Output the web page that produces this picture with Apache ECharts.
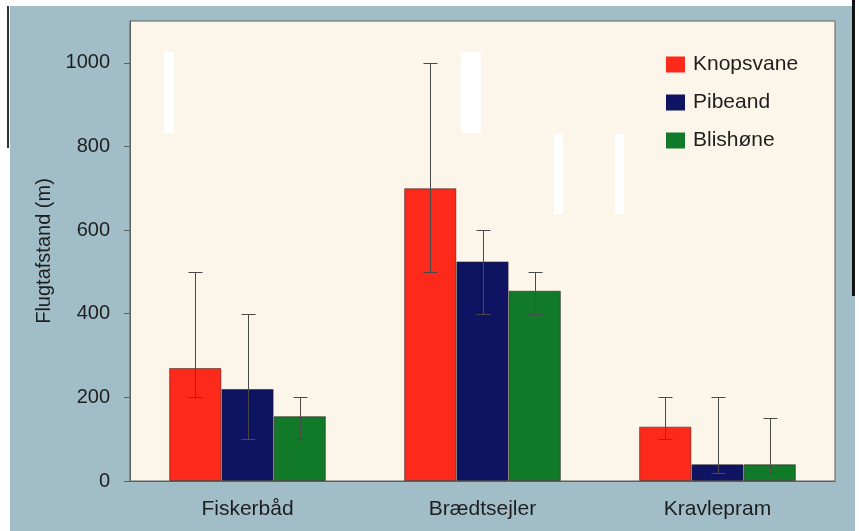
<!DOCTYPE html>
<html>
<head>
<meta charset="utf-8">
<script src="https://cdn.jsdelivr.net/npm/echarts@6/dist/echarts.min.js"></script>
<style>
html,body{margin:0;padding:0;background:#ffffff;}
#chart{width:859px;height:531px;}
</style>
</head>
<body>
<div id="chart"></div>
<script>
// ---- data ----
const categories = ['Fiskerbåd', 'Brædtsejler', 'Kravlepram'];
const seriesNames = ['Knopsvane', 'Pibeand', 'Blishøne'];
const knopsvane = [270, 700, 130];
const knopsvaneLow = [200, 500, 100];
const knopsvaneHigh = [500, 1000, 200];
const pibeand = [220, 525, 40];
const pibeandLow = [100, 400, 20];
const pibeandHigh = [400, 600, 200];
const blishone = [155, 455, 40];
const blishoneLow = [100, 400, 20];
const blishoneHigh = [200, 500, 150];
const yTicks = [0, 200, 400, 600, 800, 1000];

const colors = ['#fd2a1c', '#0e1462', '#107a28'];
const FONT = '"Liberation Sans", Arial, Helvetica, sans-serif';
const CAT_GAP = 0.3333;

const lows = [knopsvaneLow, pibeandLow, blishoneLow];
const highs = [knopsvaneHigh, pibeandHigh, blishoneHigh];
const errData = [];
for (let s = 0; s < 3; s++) {
  for (let c = 0; c < categories.length; c++) {
    errData.push([c, s, lows[s][c], highs[s][c]]);
  }
}

function renderErr(params, api) {
  const c = api.value(0), s = api.value(1), lo = api.value(2), hi = api.value(3);
  const pLo = api.coord([c, lo]);
  const pHi = api.coord([c, hi]);
  const band = api.size([1, 0])[0];
  const bw = band * (1 - CAT_GAP) / 3;
  const x = Math.round(pLo[0] + (s - 1) * bw) + 0.5;
  const yLo = Math.round(pLo[1]) + 0.5, yHi = Math.round(pHi[1]) + 0.5;
  const cap = 7;
  const st = { stroke: '#4a4a48', lineWidth: 1 };
  return {
    type: 'group',
    children: [
      { type: 'line', shape: { x1: x, y1: yLo, x2: x, y2: yHi }, style: st },
      { type: 'line', shape: { x1: x - cap, y1: yHi, x2: x + cap, y2: yHi }, style: st },
      { type: 'line', shape: { x1: x - cap, y1: yLo, x2: x + cap, y2: yLo }, style: st }
    ]
  };
}

const barStyle = (i) => ({ color: colors[i], borderColor: 'rgba(40,30,30,0.55)', borderWidth: 1 });

const chart = echarts.init(document.getElementById('chart'), null, { renderer: 'canvas' });
chart.setOption({
  animation: false,
  backgroundColor: '#ffffff',
  textStyle: { fontFamily: FONT },
  graphic: [
    { type: 'rect', z: -10, shape: { x: 10, y: 6, width: 845, height: 525 }, style: { fill: '#a1bec8' } },
    { type: 'rect', z: -9, shape: { x: 852, y: 0, width: 3, height: 296 }, style: { fill: '#111' } },
    { type: 'rect', z: -9, shape: { x: 7, y: 6, width: 2, height: 142 }, style: { fill: '#333' } },
    { type: 'rect', z: 100, shape: { x: 164, y: 52, width: 10, height: 81 }, style: { fill: '#ffffff' } },
    { type: 'rect', z: 100, shape: { x: 461, y: 52, width: 20, height: 81 }, style: { fill: '#ffffff' } },
    { type: 'rect', z: 100, shape: { x: 554, y: 134, width: 9, height: 80 }, style: { fill: '#ffffff' } },
    { type: 'rect', z: 100, shape: { x: 615, y: 134, width: 9, height: 80 }, style: { fill: '#ffffff' } }
  ],
  grid: {
    left: 130, right: 24, top: 21, bottom: 50,
    show: true, backgroundColor: '#fbf6e9', borderColor: '#5e5e5a', borderWidth: 1
  },
  legend: {
    data: seriesNames,
    orient: 'vertical',
    left: 661, top: 49,
    icon: 'rect',
    itemWidth: 19, itemHeight: 16, itemGap: 17,
    itemStyle: { borderWidth: 0 },
    textStyle: { fontSize: 21, lineHeight: 21, color: '#1e1e1e', fontFamily: FONT, padding: [0, 0, 0, 3] }
  },
  xAxis: {
    type: 'category',
    data: categories,
    axisLine: { show: true, lineStyle: { color: '#5e5e5a', width: 1 } },
    axisTick: { show: false },
    axisLabel: { fontSize: 21, color: '#1e1e1e', margin: 18, fontFamily: FONT },
    splitLine: { show: false }
  },
  yAxis: {
    type: 'value',
    min: 0, max: 1100, interval: 200,
    name: 'Flugtafstand (m)',
    nameLocation: 'middle',
    nameGap: 76,
    nameTextStyle: { fontSize: 20, color: '#1e1e1e', fontFamily: FONT },
    axisLine: { show: true, lineStyle: { color: '#5e5e5a', width: 1 } },
    axisTick: { show: true, inside: false, length: 6, customValues: yTicks, lineStyle: { color: '#5e5e5a' } },
    axisLabel: { fontSize: 20, color: '#1e1e1e', margin: 20, customValues: yTicks, fontFamily: FONT,
      formatter: (v) => String(v) },
    splitLine: { show: false }
  },
  series: [
    { name: seriesNames[0], type: 'bar', data: knopsvane, itemStyle: barStyle(0), barGap: '0%', barCategoryGap: '33.33%' },
    { name: seriesNames[1], type: 'bar', data: pibeand, itemStyle: barStyle(1), barGap: '0%', barCategoryGap: '33.33%' },
    { name: seriesNames[2], type: 'bar', data: blishone, itemStyle: barStyle(2), barGap: '0%', barCategoryGap: '33.33%' },
    { type: 'custom', data: errData, renderItem: renderErr, z: 10, silent: true,
      encode: { x: 0, y: [2, 3] } }
  ]
});
</script>
</body>
</html>
